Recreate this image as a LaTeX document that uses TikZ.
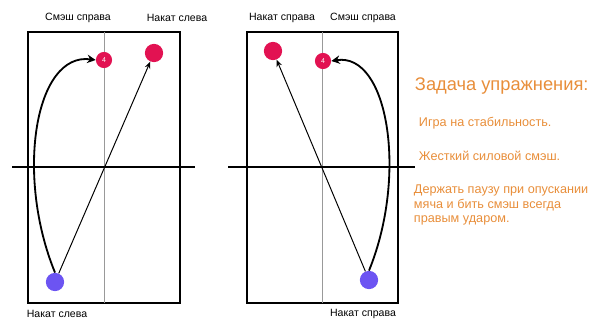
\documentclass[tikz,border=0pt]{standalone}
\usepackage{fontspec}
\setmainfont{Liberation Sans}
\usetikzlibrary{arrows.meta}
\definecolor{ballred}{RGB}{226,18,82}
\definecolor{ballblue}{RGB}{108,84,242}
\definecolor{taskorange}{RGB}{232,142,58}

\tikzset{
	table/.style={line width=1.8pt},
	midline/.style={gray!80, line width=0.6pt},
	net/.style={line width=1.4pt},
	ball/.style={circle, fill=#1, inner sep=0pt, minimum size=13pt},
	lbl/.style={font=\fontsize{7.5}{9}\selectfont},
	task/.style={text=taskorange, anchor=west, font=\fontsize{9}{10}\selectfont},
	shot/.style={line width=0.7pt, -{Stealth[length=5pt,width=4pt]}},
	curl/.style={line width=1.3pt, -{Stealth[length=6pt,width=6pt]}}
}

\begin{document}
\begin{tikzpicture}[x=0.025cm, y=-0.025cm]
	\useasboundingbox (0,0) rectangle (602,320);
	% left court
	\draw[table] (28,32) rectangle (180,303);
	\draw[midline] (104,32) -- (104,303);
	\draw[net] (12,167) -- (195,167);
	\node[ball=ballred, minimum size=11.5pt, font=\tiny, text=white] (fourL) at (104,60) {4};
	\node[ball=ballred] (pinkL) at (154,53) {};
	\node[ball=ballblue] (blueL) at (55,282) {};
	\draw[shot] (blueL) -- (pinkL);
	\draw[curl] (blueL.north) .. controls (15,175) and (35,52) .. (fourL.west);
	\node[lbl] (smashL) at (78,18) {Смэш справа};
	\node[lbl] (topL) at (177,18) {Накат слева};
	\node[lbl] (botL) at (57,314) {Накат слева};

	% right court
	\draw[table] (247,32) rectangle (398,303);
	\draw[midline] (322,32) -- (322,303);
	\draw[net] (228,167) -- (415,167);
	\node[ball=ballred, minimum size=11.5pt, font=\tiny, text=white] (fourR) at (323,61) {4};
	\node[ball=ballred] (pinkR) at (273,51) {};
	\node[ball=ballblue] (blueR) at (369,280) {};
	\draw[shot] (blueR) -- (pinkR);
	\draw[curl] (blueR.north) .. controls (408,175) and (388,52) .. (fourR.east);
	\node[lbl] (topR) at (282,18) {Накат справа};
	\node[lbl] (smashR) at (363,18) {Смэш справа};
	\node[lbl] (botR) at (363,314) {Накат справа};

	% task text
	\node[task, font=\fontsize{13}{15}\selectfont] (title) at (410,86) {Задача упражнения:};
	\node[task] (goal1) at (414,123) {Игра на стабильность.};
	\node[task] (goal2) at (414,156) {Жесткий силовой смэш.};
	\node[task, align=left, font=\fontsize{9}{10}\selectfont] (goal3) at (409,205) {Держать паузу при опускании\\мяча и бить смэш всегда\\правым ударом.};
\end{tikzpicture}
\end{document}
